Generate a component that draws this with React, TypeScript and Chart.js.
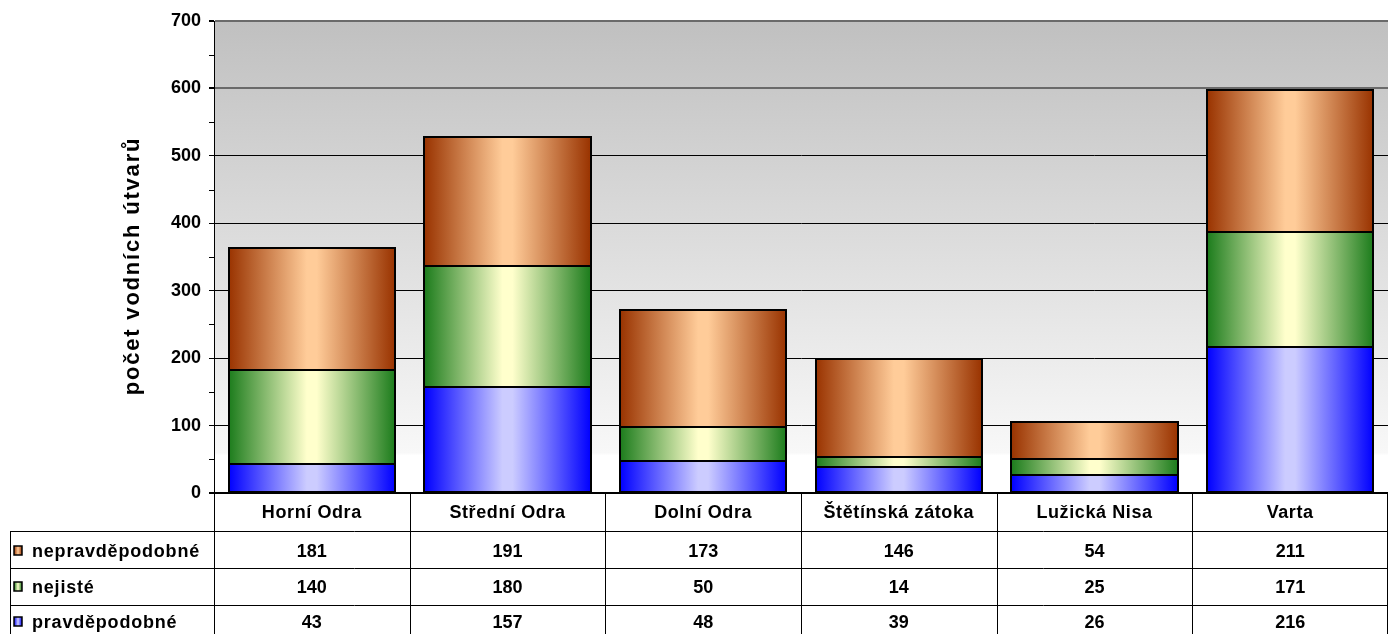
import React, { useEffect, useRef } from "react";
import { Chart, registerables } from "chart.js";

Chart.register(...registerables);

const categories = ["Horní Odra", "Střední Odra", "Dolní Odra", "Štětínská zátoka", "Lužická Nisa", "Varta"];
const pravdepodobne = [43, 157, 48, 39, 26, 216];
const nejiste = [140, 180, 50, 14, 25, 171];
const nepravdepodobne = [181, 191, 173, 146, 54, 211];
const yTicks = [0, 100, 200, 300, 400, 500, 600, 700];
const yTitle = "počet vodních útvarů";

const FONT = "'Liberation Sans', Arial, sans-serif";
const BAR_PCT = 0.85;

const seriesDefs = [
  { label: "pravděpodobné", data: pravdepodobne, edge: "#0000ff", mid: "#ccccff" },
  { label: "nejisté", data: nejiste, edge: "#1c7c1c", mid: "#ffffcc" },
  { label: "nepravděpodobné", data: nepravdepodobne, edge: "#993300", mid: "#ffcc99" },
];

function barFill(edge: string, mid: string) {
  return (c: any) => {
    const chart = c.chart;
    const area = chart.chartArea;
    if (!area || c.dataIndex === undefined || !chart.scales.x) return mid;
    const cx = chart.scales.x.getPixelForValue(c.dataIndex);
    const w = ((area.right - area.left) / categories.length) * BAR_PCT;
    const g = chart.ctx.createLinearGradient(cx - w / 2, 0, cx + w / 2, 0);
    g.addColorStop(0, edge);
    g.addColorStop(0.47, mid);
    g.addColorStop(0.53, mid);
    g.addColorStop(1, edge);
    return g;
  };
}

const bgPlugin = {
  id: "bgPlugin",
  beforeDraw(chart: any) {
    const { ctx, chartArea: a } = chart;
    ctx.save();
    const g = ctx.createLinearGradient(0, a.top, 0, a.bottom);
    g.addColorStop(0, "#c0c0c0");
    g.addColorStop(0.915, "#f8f8f8");
    g.addColorStop(0.92, "#ffffff");
    g.addColorStop(1, "#ffffff");
    ctx.fillStyle = g;
    ctx.fillRect(a.left, a.top, a.right - a.left, a.bottom - a.top);
    ctx.restore();
  },
};

const borderPlugin = {
  id: "borderPlugin",
  afterDatasetsDraw(chart: any) {
    const ctx = chart.ctx;
    ctx.save();
    ctx.strokeStyle = "#000";
    ctx.lineWidth = 2;
    chart.data.datasets.forEach((_: any, di: number) => {
      const meta = chart.getDatasetMeta(di);
      meta.data.forEach((el: any) => {
        const w = el.width;
        const left = Math.round(el.x - w / 2);
        const right = Math.round(el.x + w / 2);
        const top = Math.round(el.y);
        const bottom = Math.round(el.base);
        ctx.strokeRect(left, top, right - left, bottom - top);
      });
    });
    ctx.restore();
  },
};

const tablePlugin = {
  id: "tablePlugin",
  afterDraw(chart: any) {
    const { ctx, chartArea: a } = chart;
    const y = chart.scales.y;
    ctx.save();
    // minor ticks
    ctx.strokeStyle = "#000";
    ctx.lineWidth = 1;
    for (let v = 50; v < 700; v += 100) {
      const py = Math.round(y.getPixelForValue(v)) + 0.5;
      ctx.beginPath();
      ctx.moveTo(a.left - 5, py);
      ctx.lineTo(a.left, py);
      ctx.stroke();
    }
    // y title
    ctx.save();
    ctx.translate(133, 266);
    ctx.rotate(-Math.PI / 2);
    ctx.font = `bold 22px ${FONT}`;
    (ctx as any).letterSpacing = "1.8px";
    ctx.fillStyle = "#000";
    ctx.textAlign = "center";
    ctx.textBaseline = "middle";
    ctx.fillText(yTitle, 0, 0);
    ctx.restore();

    const colW = (a.right - a.left) / categories.length;
    const rows = [531, 568, 605];
    const bottom = chart.height;
    ctx.strokeStyle = "#000";
    ctx.lineWidth = 1;
    rows.forEach((ry) => {
      ctx.beginPath();
      ctx.moveTo(10, ry + 0.5);
      ctx.lineTo(a.right, ry + 0.5);
      ctx.stroke();
    });
    ctx.beginPath();
    ctx.moveTo(10.5, rows[0]);
    ctx.lineTo(10.5, bottom);
    ctx.stroke();
    for (let k = 0; k <= categories.length; k++) {
      const px = Math.round(a.left + k * colW) + (k === categories.length ? -0.5 : 0.5);
      ctx.beginPath();
      ctx.moveTo(px, a.bottom);
      ctx.lineTo(px, bottom);
      ctx.stroke();
    }
    ctx.fillStyle = "#000";
    ctx.textAlign = "center";
    ctx.textBaseline = "alphabetic";
    ctx.font = `bold 18px ${FONT}`;
    (ctx as any).letterSpacing = "0.6px";
    categories.forEach((cat, i) => {
      ctx.fillText(cat, a.left + (i + 0.5) * colW, 518);
    });
    const tableRows = [seriesDefs[2], seriesDefs[1], seriesDefs[0]];
    const baselines = [557, 593, 628];
    tableRows.forEach((s, r) => {
      (ctx as any).letterSpacing = "0px";
      ctx.textAlign = "center";
      ctx.font = `bold 18px ${FONT}`;
      s.data.forEach((v, i) => {
        ctx.fillText(String(v), a.left + (i + 0.5) * colW, baselines[r]);
      });
      const my = baselines[r] - 11;
      const g = ctx.createLinearGradient(14, 0, 22, 0);
      g.addColorStop(0, s.edge);
      g.addColorStop(0.5, s.mid);
      g.addColorStop(1, s.edge);
      ctx.fillStyle = g;
      ctx.fillRect(14, my, 8, 9);
      ctx.strokeStyle = "#000";
      ctx.lineWidth = 1.5;
      ctx.strokeRect(14, my, 8, 9);
      ctx.fillStyle = "#000";
      ctx.textAlign = "left";
      (ctx as any).letterSpacing = "0.8px";
      ctx.fillText(s.label, 32, baselines[r]);
    });
    ctx.restore();
  },
};

export default function App() {
  const ref = useRef<HTMLCanvasElement | null>(null);
  useEffect(() => {
    if (!ref.current) return;
    const chart = new Chart(ref.current, {
      type: "bar",
      data: {
        labels: categories,
        datasets: seriesDefs.map((s) => ({
          label: s.label,
          data: s.data,
          backgroundColor: barFill(s.edge, s.mid) as any,
          borderWidth: 0,
          barPercentage: BAR_PCT,
          categoryPercentage: 1,
        })),
      },
      options: {
        responsive: false,
        animation: false,
        devicePixelRatio: 1,
        layout: { padding: { top: 21, right: 0, bottom: 141, left: 0 } },
        plugins: { legend: { display: false }, tooltip: { enabled: false }, title: { display: false } },
        scales: {
          x: { stacked: true, display: false },
          y: {
            stacked: true,
            min: 0,
            max: 700,
            afterFit: (s: any) => {
              s.width = 214;
            },
            afterBuildTicks: (s: any) => {
              s.ticks = yTicks.map((v) => ({ value: v }));
            },
            ticks: {
              color: "#000",
              padding: 8,
              font: { family: FONT, size: 18, weight: "bold" },
            },
            grid: {
              tickLength: 5,
              tickColor: "#000",
              color: (c: any) => (c.tick && c.tick.value >= 600 ? "#6a6a6a" : "#000"),
              lineWidth: (c: any) => (c.tick && (c.tick.value >= 600 || c.tick.value === 0) ? 2 : 1),
            },
            border: { display: true, color: "#000", width: 1 },
          },
        },
      },
      plugins: [bgPlugin, borderPlugin, tablePlugin],
    });
    return () => chart.destroy();
  }, []);
  return (
    <div style={{ position: "absolute", left: 0, top: 0, width: 1388, height: 634, background: "#fff" }}>
      <canvas ref={ref} width={1388} height={634} style={{ display: "block" }} />
    </div>
  );
}
